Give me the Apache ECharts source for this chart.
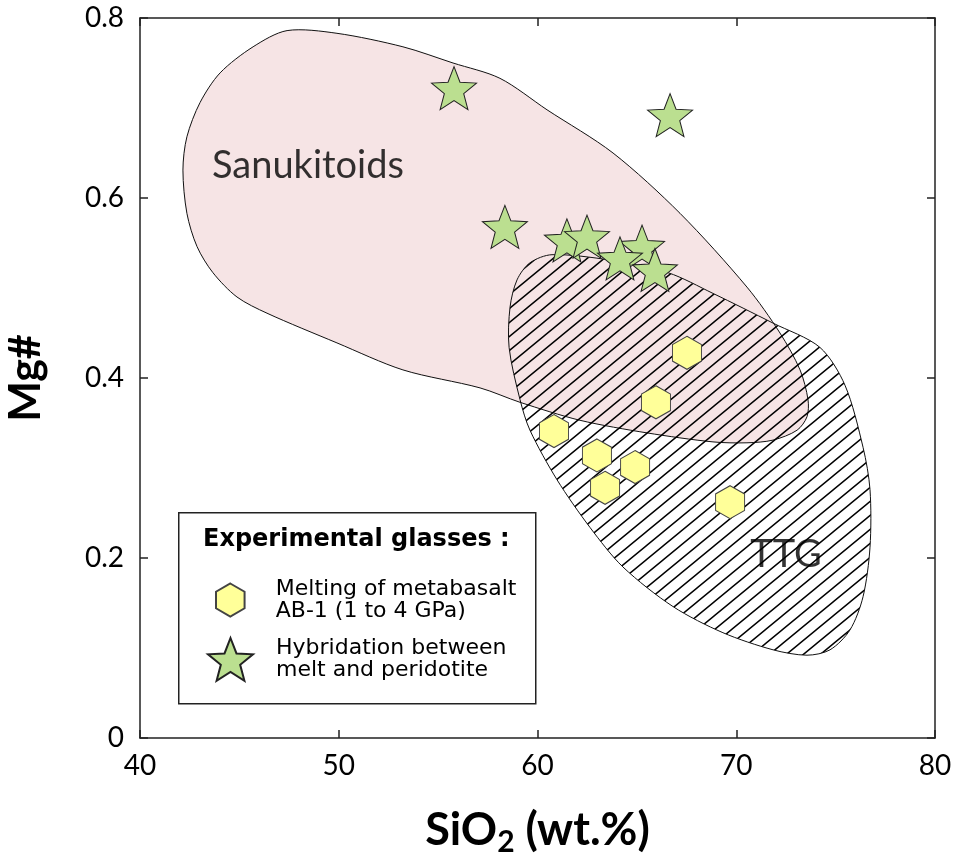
<!DOCTYPE html>
<html><head><meta charset="utf-8">
<script src="https://cdn.jsdelivr.net/npm/echarts@6/dist/echarts.min.js"></script>
<style>html,body{margin:0;padding:0;background:#fff}#c{width:954px;height:854px}</style>
</head><body><div id="c"></div>
<script>
// ---- data ----
const xTicks = [40, 50, 60, 70, 80];
const yTicks = [0, 0.2, 0.4, 0.6, 0.8];
const metabasaltSiO2 = [67.52, 65.96, 60.83, 62.99, 64.91, 63.40, 69.69];
const metabasaltMg   = [0.428, 0.373, 0.341, 0.314, 0.301, 0.278, 0.262];
const hybridSiO2 = [55.80, 66.67, 58.36, 61.48, 62.49, 65.26, 65.91, 64.15];
const hybridMg   = [0.722, 0.692, 0.568, 0.553, 0.557, 0.546, 0.520, 0.533];
const sanukitoidSiO2 = [47.40, 49.91, 53.23, 55.75, 58.11, 60.48, 63.80, 67.17, 70.54, 72.20, 73.21, 73.61, 73.56, 73.06, 71.85, 70.54, 68.83, 65.51, 62.14, 59.12, 57.11, 53.23, 49.91, 46.39, 44.88, 43.67, 42.87, 42.36, 42.16, 42.36, 43.02, 44.03, 45.69];
const sanukitoidMg   = [0.786, 0.783, 0.768, 0.750, 0.733, 0.698, 0.650, 0.583, 0.501, 0.450, 0.409, 0.376, 0.357, 0.342, 0.331, 0.328, 0.329, 0.339, 0.353, 0.373, 0.389, 0.409, 0.439, 0.472, 0.490, 0.517, 0.546, 0.583, 0.631, 0.668, 0.706, 0.739, 0.768];
const ttgSiO2 = [60.73, 63.65, 66.57, 68.83, 71.85, 74.21, 75.47, 76.38, 76.73, 76.73, 76.38, 75.72, 74.72, 73.56, 71.85, 69.33, 66.82, 64.30, 62.64, 60.98, 59.62, 59.12, 58.57, 58.62, 58.97, 59.62];
const ttgMg   = [0.537, 0.531, 0.517, 0.494, 0.461, 0.434, 0.392, 0.323, 0.276, 0.212, 0.157, 0.120, 0.098, 0.092, 0.098, 0.117, 0.146, 0.190, 0.234, 0.287, 0.342, 0.376, 0.434, 0.479, 0.509, 0.528];
const fieldNames = ['Sanukitoids', 'TTG'];
const fieldLabelSiO2 = [48.45, 72.5];
const fieldLabelMg = [0.636, 0.204];
const legendTitle = 'Experimental glasses :';
const seriesNames = ['Melting of metabasalt\nAB-1 (1 to 4 GPa)', 'Hybridation between\nmelt and peridotite'];

// ---- symbols ----
const hexPath = 'path://M0,-1L0.866,-0.5L0.866,0.5L0,1L-0.866,0.5L-0.866,-0.5Z';
function starPath() {
  let d = '';
  for (let k = 0; k < 10; k++) {
    const r = k % 2 === 0 ? 1 : 0.43;
    const a = -Math.PI / 2 + k * Math.PI / 5;
    d += (k === 0 ? 'M' : 'L') + (r * Math.cos(a)).toFixed(4) + ',' + (r * Math.sin(a)).toFixed(4);
  }
  return 'path://' + d + 'Z';
}
const starSym = starPath();

function hatchCanvas() {
  const W = 17, H = 14;
  const c = document.createElement('canvas');
  c.width = W; c.height = H;
  const g = c.getContext('2d');
  g.strokeStyle = '#000';
  g.lineWidth = 1.5;
  g.beginPath();
  g.moveTo(-W, 2 * H); g.lineTo(2 * W, -H);
  g.moveTo(-W, H); g.lineTo(W, -H);
  g.moveTo(0, 2 * H); g.lineTo(2 * W, 0);
  g.stroke();
  return c;
}
const hatch = hatchCanvas();

function polygonSeries(name, xs, ys, style, z) {
  return {
    type: 'custom', name: name, coordinateSystem: 'cartesian2d', z: z, silent: true,
    data: [[xs[0], ys[0]]],
    renderItem: function (params, api) {
      const pts = xs.map((x, i) => api.coord([x, ys[i]]));
      return { type: 'polygon', shape: { points: pts, smooth: 0.3 }, style: style };
    }
  };
}

const chart = echarts.init(document.getElementById('c'), null, { renderer: 'canvas' });
const axisLineStyle = { color: '#222', width: 1.5 };
const tickFont = { fontFamily: 'Lato', fontSize: 28, color: '#000' };

const option = {
  animation: false,
  backgroundColor: '#fff',
  grid: { left: 140, right: 19, top: 18, bottom: 116, show: false, containLabel: false, outerBoundsMode: 'none' },
  xAxis: [{
    type: 'value', min: xTicks[0], max: xTicks[xTicks.length - 1], interval: xTicks[1] - xTicks[0],
    position: 'bottom',
    axisLine: { show: true, onZero: false, lineStyle: axisLineStyle },
    axisTick: { show: true, inside: true, length: 8, lineStyle: axisLineStyle },
    axisLabel: Object.assign({ margin: 14 }, tickFont),
    splitLine: { show: false },
    name: '{a|SiO}{b|2}{a| (wt.%)}', nameLocation: 'middle', nameGap: 66,
    nameTextStyle: { rich: {
      a: { fontFamily: 'Lato', fontWeight: 'bold', fontSize: 45, color: '#000', lineHeight: 52 },
      b: { fontFamily: 'Lato', fontWeight: 'bold', fontSize: 30, color: '#000', lineHeight: 52, padding: [24, 0, 0, 0] }
    } }
  }, {
    type: 'value', min: xTicks[0], max: xTicks[xTicks.length - 1], interval: xTicks[1] - xTicks[0],
    position: 'top',
    axisLine: { show: true, onZero: false, lineStyle: axisLineStyle },
    axisTick: { show: true, inside: true, length: 8, lineStyle: axisLineStyle },
    axisLabel: { show: false }, splitLine: { show: false }
  }],
  yAxis: [{
    type: 'value', min: yTicks[0], max: yTicks[yTicks.length - 1], interval: yTicks[1] - yTicks[0],
    position: 'left',
    axisLine: { show: true, onZero: false, lineStyle: axisLineStyle },
    axisTick: { show: true, inside: true, length: 8, lineStyle: axisLineStyle },
    axisLabel: Object.assign({ margin: 16 }, tickFont),
    splitLine: { show: false },
    name: 'Mg#', nameLocation: 'middle', nameGap: 92,
    nameTextStyle: { fontFamily: 'Lato', fontWeight: 'bold', fontSize: 43, color: '#000' }
  }, {
    type: 'value', min: yTicks[0], max: yTicks[yTicks.length - 1], interval: yTicks[1] - yTicks[0],
    position: 'right',
    axisLine: { show: true, onZero: false, lineStyle: axisLineStyle },
    axisTick: { show: true, inside: true, length: 8, lineStyle: axisLineStyle },
    axisLabel: { show: false }, splitLine: { show: false }
  }],
  legend: [{
    data: [seriesNames[0]], orient: 'vertical', left: 215, top: 578, padding: 0, z: 10,
    itemWidth: 29, itemHeight: 33, selectedMode: false,
    textStyle: { fontFamily: 'DejaVu Sans', fontSize: 22, lineHeight: 22, color: '#000', padding: [0, 0, 0, 26] }
  }, {
    data: [seriesNames[1]], orient: 'vertical', left: 207, top: 637, padding: 0, z: 10,
    itemWidth: 45, itemHeight: 43, selectedMode: false,
    textStyle: { fontFamily: 'DejaVu Sans', fontSize: 22, lineHeight: 22, color: '#000', padding: [0, 0, 0, 18] }
  }],
  graphic: [{
    type: 'rect', z: 3, left: 178, top: 512,
    shape: { width: 357, height: 191 },
    style: { fill: '#fff', stroke: '#222', lineWidth: 1.5 }
  }, {
    type: 'text', z: 11, left: 203, top: 528,
    style: { text: legendTitle, fontFamily: 'DejaVu Sans', fontWeight: 'bold', fontSize: 24, fill: '#000' }
  }],
  series: [
    polygonSeries('Sanukitoids field', sanukitoidSiO2, sanukitoidMg, { fill: '#f6e4e5', stroke: '#111', lineWidth: 1 }, 1),
    polygonSeries('TTG field', ttgSiO2, ttgMg, { fill: { image: hatch, repeat: 'repeat' }, stroke: '#111', lineWidth: 1 }, 2),
    {
      type: 'scatter', name: seriesNames[0], z: 5,
      symbol: hexPath, symbolSize: [29, 33],
      itemStyle: { color: '#ffff99', borderColor: '#444', borderWidth: 1, opacity: 1 },
      data: metabasaltSiO2.map((x, i) => [x, metabasaltMg[i]])
    },
    {
      type: 'scatter', name: seriesNames[1], z: 6,
      symbol: starSym, symbolSize: [45, 43],
      itemStyle: { color: '#bbdf90', borderColor: '#222', borderWidth: 1, opacity: 1 },
      data: hybridSiO2.map((x, i) => [x, hybridMg[i]])
    },
    {
      type: 'scatter', name: 'field labels', z: 7, symbolSize: 0, silent: true,
      label: { show: true, position: 'inside', formatter: p => p.name, fontFamily: 'Lato', fontSize: 38, color: '#000' },
      data: fieldNames.map((n, i) => ({ name: n, value: [fieldLabelSiO2[i], fieldLabelMg[i]] }))
    }
  ]
};
chart.setOption(option);
</script>
</body></html>
